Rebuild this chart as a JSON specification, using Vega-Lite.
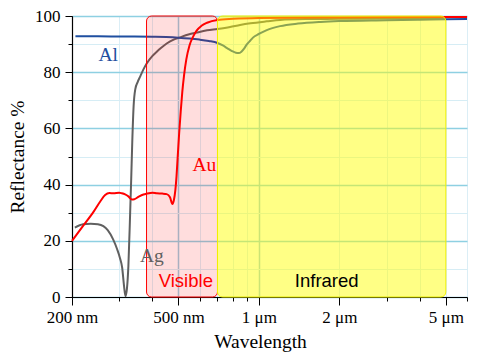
{
  "$schema": "https://vega.github.io/schema/vega-lite/v6.json",
  "width": 395,
  "height": 281,
  "autosize": {"type": "none"},
  "padding": {"left": 72, "top": 16, "right": 13, "bottom": 66},
  "config": {
    "font": "Liberation Serif",
    "view": {"stroke": null},
    "axis": {
      "labelFont": "Liberation Serif",
      "titleFont": "Liberation Serif",
      "labelColor": "#000000",
      "titleColor": "#000000",
      "domainColor": "#000000",
      "tickColor": "#000000",
      "titleFontWeight": "normal",
      "labelFlush": false,
      "labelOverlap": false
    }
  },
  "resolve": {"axis": {"x": "independent", "y": "independent"}},
  "datasets": {
    "curves": [
      {"material": "Ag", "nm": 205, "R": 24.7},
      {"material": "Ag", "nm": 220, "R": 25.9},
      {"material": "Ag", "nm": 235, "R": 26.1},
      {"material": "Ag", "nm": 250, "R": 25.9},
      {"material": "Ag", "nm": 262, "R": 25.2},
      {"material": "Ag", "nm": 272, "R": 23.8},
      {"material": "Ag", "nm": 285, "R": 20.5},
      {"material": "Ag", "nm": 295, "R": 17},
      {"material": "Ag", "nm": 302, "R": 14},
      {"material": "Ag", "nm": 308, "R": 10.5},
      {"material": "Ag", "nm": 313, "R": 4},
      {"material": "Ag", "nm": 317, "R": 0.3},
      {"material": "Ag", "nm": 321, "R": 3},
      {"material": "Ag", "nm": 325, "R": 11},
      {"material": "Ag", "nm": 330, "R": 30},
      {"material": "Ag", "nm": 333, "R": 42},
      {"material": "Ag", "nm": 336, "R": 55},
      {"material": "Ag", "nm": 340, "R": 68},
      {"material": "Ag", "nm": 345, "R": 74},
      {"material": "Ag", "nm": 352, "R": 76.5},
      {"material": "Ag", "nm": 360, "R": 78.5},
      {"material": "Ag", "nm": 370, "R": 81},
      {"material": "Ag", "nm": 381, "R": 83.2},
      {"material": "Ag", "nm": 400, "R": 85.8},
      {"material": "Ag", "nm": 415, "R": 87.3},
      {"material": "Ag", "nm": 430, "R": 88.6},
      {"material": "Ag", "nm": 452, "R": 90.2},
      {"material": "Ag", "nm": 480, "R": 91.6},
      {"material": "Ag", "nm": 507, "R": 92.4},
      {"material": "Ag", "nm": 545, "R": 93.4},
      {"material": "Ag", "nm": 585, "R": 94.1},
      {"material": "Ag", "nm": 640, "R": 94.9},
      {"material": "Ag", "nm": 700, "R": 95.4},
      {"material": "Ag", "nm": 780, "R": 96.1},
      {"material": "Ag", "nm": 850, "R": 96.8},
      {"material": "Ag", "nm": 930, "R": 97.4},
      {"material": "Ag", "nm": 1070, "R": 98.1},
      {"material": "Ag", "nm": 1200, "R": 98.6},
      {"material": "Ag", "nm": 1500, "R": 98.9},
      {"material": "Ag", "nm": 2000, "R": 99.0},
      {"material": "Ag", "nm": 3000, "R": 99.1},
      {"material": "Ag", "nm": 5000, "R": 99.1},
      {"material": "Al", "nm": 206, "R": 92.8},
      {"material": "Al", "nm": 250, "R": 92.8},
      {"material": "Al", "nm": 300, "R": 92.7},
      {"material": "Al", "nm": 400, "R": 92.6},
      {"material": "Al", "nm": 450, "R": 92.5},
      {"material": "Al", "nm": 500, "R": 92.3},
      {"material": "Al", "nm": 550, "R": 92.0},
      {"material": "Al", "nm": 600, "R": 91.6},
      {"material": "Al", "nm": 650, "R": 91.1},
      {"material": "Al", "nm": 700, "R": 90.4},
      {"material": "Al", "nm": 730, "R": 89.6},
      {"material": "Al", "nm": 760, "R": 88.6},
      {"material": "Al", "nm": 790, "R": 87.6},
      {"material": "Al", "nm": 820, "R": 86.9},
      {"material": "Al", "nm": 840, "R": 86.8},
      {"material": "Al", "nm": 860, "R": 87.3},
      {"material": "Al", "nm": 880, "R": 88.4},
      {"material": "Al", "nm": 900, "R": 89.8},
      {"material": "Al", "nm": 930, "R": 91.3},
      {"material": "Al", "nm": 950, "R": 92.3},
      {"material": "Al", "nm": 1000, "R": 93.6},
      {"material": "Al", "nm": 1070, "R": 95.0},
      {"material": "Al", "nm": 1200, "R": 96.4},
      {"material": "Al", "nm": 1400, "R": 97.3},
      {"material": "Al", "nm": 1700, "R": 97.9},
      {"material": "Al", "nm": 2000, "R": 98.2},
      {"material": "Al", "nm": 3000, "R": 98.5},
      {"material": "Al", "nm": 4000, "R": 98.7},
      {"material": "Al", "nm": 5000, "R": 98.8},
      {"material": "Al", "nm": 6000, "R": 98.9},
      {"material": "Au", "nm": 200, "R": 20.0},
      {"material": "Au", "nm": 220, "R": 25.3},
      {"material": "Au", "nm": 241, "R": 30.4},
      {"material": "Au", "nm": 255, "R": 34},
      {"material": "Au", "nm": 266, "R": 36.3},
      {"material": "Au", "nm": 276, "R": 37.0},
      {"material": "Au", "nm": 286, "R": 36.9},
      {"material": "Au", "nm": 300, "R": 37.1},
      {"material": "Au", "nm": 307, "R": 36.9},
      {"material": "Au", "nm": 316, "R": 36.5},
      {"material": "Au", "nm": 325, "R": 35.8},
      {"material": "Au", "nm": 335, "R": 34.7},
      {"material": "Au", "nm": 342, "R": 34.8},
      {"material": "Au", "nm": 355, "R": 35.7},
      {"material": "Au", "nm": 370, "R": 36.5},
      {"material": "Au", "nm": 381, "R": 36.8},
      {"material": "Au", "nm": 400, "R": 37.1},
      {"material": "Au", "nm": 415, "R": 36.9},
      {"material": "Au", "nm": 435, "R": 36.8},
      {"material": "Au", "nm": 452, "R": 36.6},
      {"material": "Au", "nm": 465, "R": 35.5},
      {"material": "Au", "nm": 475, "R": 33.1},
      {"material": "Au", "nm": 481, "R": 34.5},
      {"material": "Au", "nm": 487, "R": 38},
      {"material": "Au", "nm": 492, "R": 43},
      {"material": "Au", "nm": 497, "R": 50},
      {"material": "Au", "nm": 503, "R": 58},
      {"material": "Au", "nm": 510, "R": 66},
      {"material": "Au", "nm": 517, "R": 73},
      {"material": "Au", "nm": 525, "R": 79},
      {"material": "Au", "nm": 535, "R": 84.5},
      {"material": "Au", "nm": 550, "R": 89.5},
      {"material": "Au", "nm": 570, "R": 93},
      {"material": "Au", "nm": 585, "R": 94.8},
      {"material": "Au", "nm": 610, "R": 96.5},
      {"material": "Au", "nm": 640, "R": 97.6},
      {"material": "Au", "nm": 700, "R": 98.6},
      {"material": "Au", "nm": 800, "R": 99.0},
      {"material": "Au", "nm": 1000, "R": 99.3},
      {"material": "Au", "nm": 2000, "R": 99.5},
      {"material": "Au", "nm": 5000, "R": 99.6},
      {"material": "Au", "nm": 6000, "R": 99.6}
    ],
    "regions": [
      {"region": "Visible", "start": 380, "end": 700},
      {"region": "Infrared", "start": 700, "end": 5000}
    ],
    "elementLabels": [
      {"material": "Al", "nm": 273, "R": 84.0},
      {"material": "Au", "nm": 625, "R": 44.9},
      {"material": "Ag", "nm": 398, "R": 12.6}
    ],
    "regionLabels": [
      {"region": "Visible", "nm": 533, "R": 3.5},
      {"region": "Infrared", "nm": 1793, "R": 3.7}
    ]
  },
  "layer": [
    {
      "data": {"name": "curves"},
      "mark": {"type": "line", "strokeWidth": 2, "interpolate": "monotone"},
      "encoding": {
        "x": {
          "field": "nm", "type": "quantitative",
          "scale": {"type": "log", "domain": [200, 6000], "nice": false},
          "axis": {
            "orient": "bottom",
            "values": [200, 300, 400, 500, 600, 700, 800, 900, 1000, 2000, 3000, 4000, 5000, 6000],
            "labels": false, "domain": false, "tickSize": 4, "title": null,
            "grid": true,
            "gridColor": {"condition": {"test": "datum.value === 500 || datum.value === 1000", "value": "#9ccbde"}, "value": "#dbeef6"},
            "gridWidth": {"condition": {"test": "datum.value === 500 || datum.value === 1000", "value": 1.5}, "value": 1}
          }
        },
        "y": {
          "field": "R", "type": "quantitative",
          "scale": {"domain": [0, 100], "nice": false},
          "axis": {
            "orient": "left",
            "values": [0, 10, 20, 30, 40, 50, 60, 70, 80, 90, 100],
            "labels": false, "domain": false, "tickSize": 4, "title": null,
            "grid": true,
            "gridColor": {"condition": {"test": "datum.value % 20 === 0", "value": "#8ed0e2"}, "value": "#d6edf5"},
            "gridWidth": {"condition": {"test": "datum.value % 20 === 0", "value": 1.5}, "value": 1}
          }
        },
        "color": {
          "field": "material", "type": "nominal",
          "scale": {"domain": ["Ag", "Al", "Au"], "range": ["#606060", "#1f4fa0", "#ff0000"]},
          "legend": null
        }
      }
    },
    {
      "data": {"name": "regions"},
      "mark": {"type": "rect", "cornerRadius": 5, "strokeWidth": 1},
      "encoding": {
        "x": {"field": "start", "type": "quantitative", "scale": {"type": "log", "domain": [200, 6000], "nice": false}, "axis": null},
        "x2": {"field": "end"},
        "y": {"datum": 0, "type": "quantitative", "scale": {"domain": [0, 100], "nice": false}, "axis": null},
        "y2": {"datum": 100},
        "fill": {
          "field": "region", "type": "nominal",
          "scale": {"domain": ["Visible", "Infrared"], "range": ["rgba(255,0,0,0.135)", "rgba(255,255,0,0.48)"]},
          "legend": null
        },
        "stroke": {
          "field": "region", "type": "nominal",
          "scale": {"domain": ["Visible", "Infrared"], "range": ["#ff0000", "#f2f200"]},
          "legend": null
        }
      }
    },
    {
      "data": {"name": "elementLabels"},
      "mark": {"type": "text", "font": "Liberation Serif", "fontSize": 19.5, "align": "center", "baseline": "alphabetic"},
      "encoding": {
        "x": {"field": "nm", "type": "quantitative", "scale": {"type": "log", "domain": [200, 6000], "nice": false}, "axis": null},
        "y": {"field": "R", "type": "quantitative", "scale": {"domain": [0, 100], "nice": false}, "axis": null},
        "text": {"field": "material"},
        "color": {"field": "material", "type": "nominal", "legend": null}
      }
    },
    {
      "data": {"name": "regionLabels"},
      "mark": {"type": "text", "font": "Liberation Sans", "fontSize": 18.5, "align": "center", "baseline": "alphabetic"},
      "encoding": {
        "x": {
          "field": "nm", "type": "quantitative",
          "scale": {"type": "log", "domain": [200, 6000], "nice": false},
          "axis": {
            "orient": "bottom",
            "values": [200, 500, 1000, 2000, 5000],
            "labelExpr": "datum.value < 1000 ? datum.value + ' nm' : (datum.value / 1000) + ' μm'",
            "labelFont": "Liberation Serif", "titleFont": "Liberation Serif",
            "labelFontSize": 17, "labelPadding": 4.5, "tickSize": 8, "domain": true, "domainWidth": 1.2,
            "grid": false,
            "title": "Wavelength", "titleFontSize": 19.5, "titleBaseline": "alphabetic",
            "titleX": 188, "titleY": 50
          }
        },
        "y": {
          "field": "R", "type": "quantitative",
          "scale": {"domain": [0, 100], "nice": false},
          "axis": {
            "orient": "left",
            "values": [0, 20, 40, 60, 80, 100],
            "labelFont": "Liberation Serif", "titleFont": "Liberation Serif",
            "labelFontSize": 17, "labelPadding": 5, "tickSize": 7, "domain": true, "domainWidth": 1.2,
            "grid": false,
            "title": "Reflectance %", "titleFontSize": 19.5, "titleBaseline": "alphabetic",
            "titleAngle": -90, "titleX": -49, "titleY": 140.5
          }
        },
        "text": {"field": "region"},
        "color": {"condition": {"test": "datum.region === 'Visible'", "value": "#ff0000"}, "value": "#000000"}
      }
    }
  ]
}
